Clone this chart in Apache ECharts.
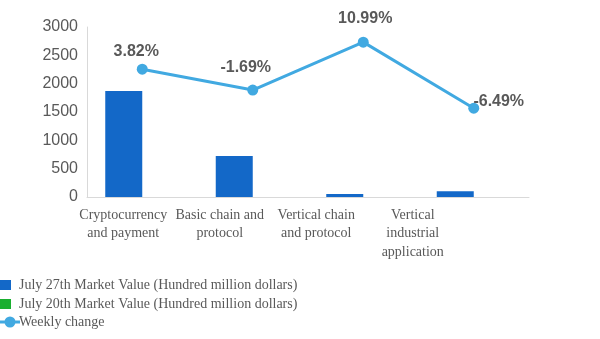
<!DOCTYPE html>
<html><head><meta charset="utf-8">
<script src="https://cdn.jsdelivr.net/npm/echarts@6/dist/echarts.min.js"></script>
<style>html,body{margin:0;padding:0;background:#fff}#c{width:600px;height:339px}</style>
</head><body><div id="c"></div>
<script>
var categories = ['Cryptocurrency\nand payment', 'Basic chain and\nprotocol', 'Vertical chain\nand protocol', 'Vertical\nindustrial\napplication'];
var july27 = [1870, 725, 55, 100];
var july20 = [null, null, null, null];
var weeklyChange = [3.82, -1.69, 10.99, -6.49];
var yTicks = [0, 500, 1000, 1500, 2000, 2500, 3000];
var seriesNames = ['July 27th Market Value (Hundred million dollars)', 'July 20th Market Value (Hundred million dollars)', 'Weekly change'];

var labelOffsets = [[-6, 0], [-7, -5], [2, -6], [25, 11]];
var grey = '#595959';
var legendText = {fontFamily: 'Liberation Serif', fontSize: 14, color: grey};
var chart = echarts.init(document.getElementById('c'));
chart.setOption({
  animation: false,
  backgroundColor: '#fff',
  grid: [
    {left: 87, right: 71, top: 27, bottom: 142},
    {left: 75, width: 386, top: 27, bottom: 142}
  ],
  legend: [
    {orient: 'vertical', left: -3, top: 278, padding: 0, itemWidth: 14, itemHeight: 10, itemGap: 5,
     textStyle: Object.assign({padding: [0, 0, 0, 3]}, legendText),
     data: [{name: seriesNames[0], icon: 'rect'}, {name: seriesNames[1], icon: 'rect'}]},
    {orient: 'vertical', left: 0, top: 315, padding: 0, itemWidth: 20, itemHeight: 11, symbolKeepAspect: false,
     textStyle: Object.assign({padding: [0, 0, 0, -6]}, legendText),
     data: [{name: seriesNames[2],
             icon: 'path://M0,4 h20 v3 h-20 z M15.5,5.5 A5.5,5.5 0 1,1 4.5,5.5 A5.5,5.5 0 1,1 15.5,5.5 z'}]}
  ],
  xAxis: [
    {type: 'category', gridIndex: 0, data: categories,
     axisLine: {lineStyle: {color: '#d9d9d9'}}, axisTick: {show: false}, axisLabel: {show: false}},
    {type: 'category', gridIndex: 1, data: categories,
     axisLine: {show: false}, axisTick: {show: false},
     axisLabel: {margin: 9, fontFamily: 'Liberation Serif', fontSize: 14, color: grey, lineHeight: 18.5, interval: 0}}
  ],
  yAxis: [
    {type: 'value', gridIndex: 0, min: yTicks[0], max: yTicks[yTicks.length - 1], interval: yTicks[1] - yTicks[0],
     axisLine: {show: true, lineStyle: {color: '#d9d9d9'}}, splitLine: {show: false},
     axisLabel: {margin: 9, fontFamily: 'Liberation Sans', fontSize: 16, color: grey,
                 formatter: function (v) { return String(v); }}},
    {type: 'value', gridIndex: 0, min: -30, max: 15, show: false, splitLine: {show: false}},
    {type: 'value', gridIndex: 1, show: false, splitLine: {show: false}}
  ],
  series: [
    {name: seriesNames[0], type: 'bar', xAxisIndex: 0, yAxisIndex: 0,
     data: july27, itemStyle: {color: '#1368C8'}, barWidth: 37, barGap: '0%'},
    {name: seriesNames[1], type: 'bar', xAxisIndex: 0, yAxisIndex: 0,
     data: july20, itemStyle: {color: '#1AAF2F'}, barWidth: 37},
    {name: seriesNames[2], type: 'line', xAxisIndex: 0, yAxisIndex: 1,
     data: weeklyChange.map(function (v, i) {
       return {value: v, label: {offset: labelOffsets[i]}};
     }),
     lineStyle: {color: '#41A9E1', width: 3}, itemStyle: {color: '#41A9E1'},
     symbol: 'circle', symbolSize: 11,
     label: {show: true, position: 'top', distance: 4, fontFamily: 'Liberation Sans', fontWeight: 'bold', fontSize: 16, color: grey,
             formatter: function (p) { return p.value.toFixed(2) + '%'; }}}
  ]
});
</script></body></html>
